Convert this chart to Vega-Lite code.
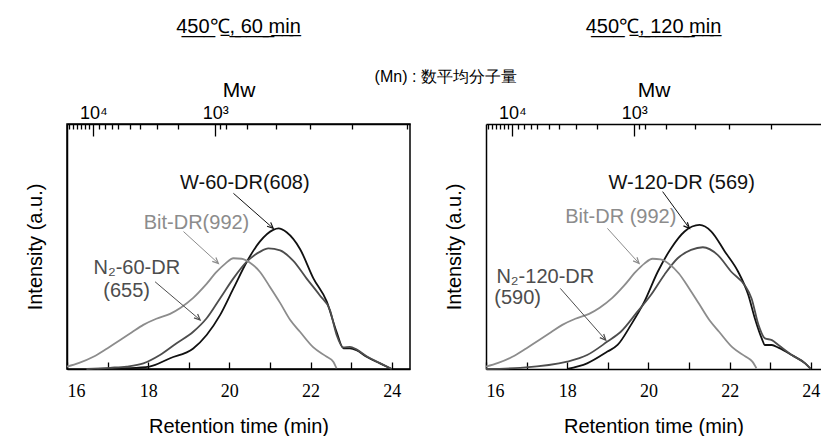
{
  "$schema": "https://vega.github.io/schema/vega-lite/v6.json",
  "background": "white",
  "padding": {"left": 24, "top": 16, "right": 0, "bottom": 0},
  "bounds": "flush",
  "spacing": 76,
  "config": {
    "view": {"stroke": null},
    "font": "Liberation Sans",
    "axis": {"domainColor": "#000", "domainWidth": 1.5, "tickColor": "#000", "tickWidth": 1.3, "labelColor": "#000", "titleColor": "#000", "titleFontWeight": "normal", "grid": false, "labelFont": "Liberation Sans Narrow", "labelFontSize": 18, "titleFontSize": 20, "titleFont": "Liberation Sans"},
    "title": {"fontSize": 20, "fontWeight": "normal", "font": "Liberation Sans", "color": "#000"}
  },
  "datasets": {
    "curves": [
      {"panel": "60", "series": "Bit", "rt": 16.0, "I": 0.01},
      {"panel": "60", "series": "Bit", "rt": 16.3, "I": 0.025},
      {"panel": "60", "series": "Bit", "rt": 16.65, "I": 0.05},
      {"panel": "60", "series": "Bit", "rt": 17.0, "I": 0.085},
      {"panel": "60", "series": "Bit", "rt": 17.31, "I": 0.118},
      {"panel": "60", "series": "Bit", "rt": 17.6, "I": 0.15},
      {"panel": "60", "series": "Bit", "rt": 17.88, "I": 0.18},
      {"panel": "60", "series": "Bit", "rt": 18.2, "I": 0.205},
      {"panel": "60", "series": "Bit", "rt": 18.54, "I": 0.225},
      {"panel": "60", "series": "Bit", "rt": 18.8, "I": 0.25},
      {"panel": "60", "series": "Bit", "rt": 19.11, "I": 0.29},
      {"panel": "60", "series": "Bit", "rt": 19.4, "I": 0.34},
      {"panel": "60", "series": "Bit", "rt": 19.69, "I": 0.397},
      {"panel": "60", "series": "Bit", "rt": 19.9, "I": 0.43},
      {"panel": "60", "series": "Bit", "rt": 20.1, "I": 0.452},
      {"panel": "60", "series": "Bit", "rt": 20.3, "I": 0.45},
      {"panel": "60", "series": "Bit", "rt": 20.5, "I": 0.435},
      {"panel": "60", "series": "Bit", "rt": 20.75, "I": 0.397},
      {"panel": "60", "series": "Bit", "rt": 21.0, "I": 0.335},
      {"panel": "60", "series": "Bit", "rt": 21.25, "I": 0.27},
      {"panel": "60", "series": "Bit", "rt": 21.5, "I": 0.2},
      {"panel": "60", "series": "Bit", "rt": 21.74, "I": 0.152},
      {"panel": "60", "series": "Bit", "rt": 22.07, "I": 0.088},
      {"panel": "60", "series": "Bit", "rt": 22.4, "I": 0.05},
      {"panel": "60", "series": "Bit", "rt": 22.56, "I": 0.03},
      {"panel": "60", "series": "Bit", "rt": 22.64, "I": 0.003},

      {"panel": "60", "series": "W", "rt": 16.73, "I": 0.0},
      {"panel": "60", "series": "W", "rt": 17.47, "I": 0.003},
      {"panel": "60", "series": "W", "rt": 18.03, "I": 0.01},
      {"panel": "60", "series": "W", "rt": 18.54, "I": 0.044},
      {"panel": "60", "series": "W", "rt": 19.11, "I": 0.084},
      {"panel": "60", "series": "W", "rt": 19.44, "I": 0.139},
      {"panel": "60", "series": "W", "rt": 19.77, "I": 0.22},
      {"panel": "60", "series": "W", "rt": 20.1, "I": 0.329},
      {"panel": "60", "series": "W", "rt": 20.43, "I": 0.438},
      {"panel": "60", "series": "W", "rt": 20.75, "I": 0.52},
      {"panel": "60", "series": "W", "rt": 21.08, "I": 0.568},
      {"panel": "60", "series": "W", "rt": 21.21, "I": 0.574},
      {"panel": "60", "series": "W", "rt": 21.41, "I": 0.558},
      {"panel": "60", "series": "W", "rt": 21.74, "I": 0.49},
      {"panel": "60", "series": "W", "rt": 22.07, "I": 0.37},
      {"panel": "60", "series": "W", "rt": 22.4, "I": 0.275},
      {"panel": "60", "series": "W", "rt": 22.64, "I": 0.152},
      {"panel": "60", "series": "W", "rt": 22.81, "I": 0.084},
      {"panel": "60", "series": "W", "rt": 22.97, "I": 0.084},
      {"panel": "60", "series": "W", "rt": 23.13, "I": 0.077},
      {"panel": "60", "series": "W", "rt": 23.38, "I": 0.05},
      {"panel": "60", "series": "W", "rt": 23.71, "I": 0.023},
      {"panel": "60", "series": "W", "rt": 24.0, "I": 0.0},

      {"panel": "60", "series": "N2", "rt": 16.48, "I": 0.0},
      {"panel": "60", "series": "N2", "rt": 17.06, "I": 0.005},
      {"panel": "60", "series": "N2", "rt": 17.47, "I": 0.01},
      {"panel": "60", "series": "N2", "rt": 17.88, "I": 0.023},
      {"panel": "60", "series": "N2", "rt": 18.29, "I": 0.057},
      {"panel": "60", "series": "N2", "rt": 18.7, "I": 0.105},
      {"panel": "60", "series": "N2", "rt": 19.11, "I": 0.152},
      {"panel": "60", "series": "N2", "rt": 19.44, "I": 0.207},
      {"panel": "60", "series": "N2", "rt": 19.77, "I": 0.288},
      {"panel": "60", "series": "N2", "rt": 20.1, "I": 0.37},
      {"panel": "60", "series": "N2", "rt": 20.43, "I": 0.438},
      {"panel": "60", "series": "N2", "rt": 20.75, "I": 0.478},
      {"panel": "60", "series": "N2", "rt": 20.96, "I": 0.492},
      {"panel": "60", "series": "N2", "rt": 21.25, "I": 0.484},
      {"panel": "60", "series": "N2", "rt": 21.57, "I": 0.442},
      {"panel": "60", "series": "N2", "rt": 21.9, "I": 0.37},
      {"panel": "60", "series": "N2", "rt": 22.23, "I": 0.3},
      {"panel": "60", "series": "N2", "rt": 22.48, "I": 0.24},
      {"panel": "60", "series": "N2", "rt": 22.64, "I": 0.14},
      {"panel": "60", "series": "N2", "rt": 22.81, "I": 0.088},
      {"panel": "60", "series": "N2", "rt": 22.97, "I": 0.09},
      {"panel": "60", "series": "N2", "rt": 23.13, "I": 0.08},
      {"panel": "60", "series": "N2", "rt": 23.38, "I": 0.052},
      {"panel": "60", "series": "N2", "rt": 23.71, "I": 0.024},
      {"panel": "60", "series": "N2", "rt": 24.0, "I": 0.0},

      {"panel": "120", "series": "Bit", "rt": 16.0, "I": 0.01},
      {"panel": "120", "series": "Bit", "rt": 16.3, "I": 0.025},
      {"panel": "120", "series": "Bit", "rt": 16.65, "I": 0.05},
      {"panel": "120", "series": "Bit", "rt": 17.0, "I": 0.085},
      {"panel": "120", "series": "Bit", "rt": 17.31, "I": 0.118},
      {"panel": "120", "series": "Bit", "rt": 17.6, "I": 0.15},
      {"panel": "120", "series": "Bit", "rt": 17.88, "I": 0.18},
      {"panel": "120", "series": "Bit", "rt": 18.2, "I": 0.205},
      {"panel": "120", "series": "Bit", "rt": 18.54, "I": 0.225},
      {"panel": "120", "series": "Bit", "rt": 18.8, "I": 0.25},
      {"panel": "120", "series": "Bit", "rt": 19.11, "I": 0.29},
      {"panel": "120", "series": "Bit", "rt": 19.4, "I": 0.34},
      {"panel": "120", "series": "Bit", "rt": 19.69, "I": 0.397},
      {"panel": "120", "series": "Bit", "rt": 19.9, "I": 0.43},
      {"panel": "120", "series": "Bit", "rt": 20.1, "I": 0.45},
      {"panel": "120", "series": "Bit", "rt": 20.3, "I": 0.447},
      {"panel": "120", "series": "Bit", "rt": 20.5, "I": 0.43},
      {"panel": "120", "series": "Bit", "rt": 20.75, "I": 0.39},
      {"panel": "120", "series": "Bit", "rt": 21.0, "I": 0.33},
      {"panel": "120", "series": "Bit", "rt": 21.25, "I": 0.265},
      {"panel": "120", "series": "Bit", "rt": 21.5, "I": 0.2},
      {"panel": "120", "series": "Bit", "rt": 21.74, "I": 0.152},
      {"panel": "120", "series": "Bit", "rt": 22.07, "I": 0.088},
      {"panel": "120", "series": "Bit", "rt": 22.4, "I": 0.05},
      {"panel": "120", "series": "Bit", "rt": 22.56, "I": 0.03},
      {"panel": "120", "series": "Bit", "rt": 22.66, "I": 0.003},

      {"panel": "120", "series": "W", "rt": 18.0, "I": 0.0},
      {"panel": "120", "series": "W", "rt": 18.49, "I": 0.023},
      {"panel": "120", "series": "W", "rt": 18.99, "I": 0.071},
      {"panel": "120", "series": "W", "rt": 19.24, "I": 0.098},
      {"panel": "120", "series": "W", "rt": 19.57, "I": 0.18},
      {"panel": "120", "series": "W", "rt": 19.9, "I": 0.275},
      {"panel": "120", "series": "W", "rt": 20.23, "I": 0.397},
      {"panel": "120", "series": "W", "rt": 20.56, "I": 0.493},
      {"panel": "120", "series": "W", "rt": 20.89, "I": 0.561},
      {"panel": "120", "series": "W", "rt": 21.26, "I": 0.588},
      {"panel": "120", "series": "W", "rt": 21.55, "I": 0.561},
      {"panel": "120", "series": "W", "rt": 21.88, "I": 0.48},
      {"panel": "120", "series": "W", "rt": 22.21, "I": 0.397},
      {"panel": "120", "series": "W", "rt": 22.46, "I": 0.302},
      {"panel": "120", "series": "W", "rt": 22.62, "I": 0.207},
      {"panel": "120", "series": "W", "rt": 22.79, "I": 0.125},
      {"panel": "120", "series": "W", "rt": 22.87, "I": 0.098},
      {"panel": "120", "series": "W", "rt": 23.04, "I": 0.098},
      {"panel": "120", "series": "W", "rt": 23.2, "I": 0.087},
      {"panel": "120", "series": "W", "rt": 23.53, "I": 0.057},
      {"panel": "120", "series": "W", "rt": 23.86, "I": 0.023},
      {"panel": "120", "series": "W", "rt": 24.0, "I": 0.0},

      {"panel": "120", "series": "N2", "rt": 16.0, "I": 0.0},
      {"panel": "120", "series": "N2", "rt": 16.84, "I": 0.005},
      {"panel": "120", "series": "N2", "rt": 18.0, "I": 0.03},
      {"panel": "120", "series": "N2", "rt": 18.49, "I": 0.057},
      {"panel": "120", "series": "N2", "rt": 18.99, "I": 0.112},
      {"panel": "120", "series": "N2", "rt": 19.32, "I": 0.152},
      {"panel": "120", "series": "N2", "rt": 19.73, "I": 0.234},
      {"panel": "120", "series": "N2", "rt": 20.06, "I": 0.302},
      {"panel": "120", "series": "N2", "rt": 20.39, "I": 0.384},
      {"panel": "120", "series": "N2", "rt": 20.72, "I": 0.452},
      {"panel": "120", "series": "N2", "rt": 21.05, "I": 0.486},
      {"panel": "120", "series": "N2", "rt": 21.34, "I": 0.497},
      {"panel": "120", "series": "N2", "rt": 21.71, "I": 0.465},
      {"panel": "120", "series": "N2", "rt": 22.04, "I": 0.397},
      {"panel": "120", "series": "N2", "rt": 22.37, "I": 0.342},
      {"panel": "120", "series": "N2", "rt": 22.54, "I": 0.288},
      {"panel": "120", "series": "N2", "rt": 22.71, "I": 0.18},
      {"panel": "120", "series": "N2", "rt": 22.87, "I": 0.125},
      {"panel": "120", "series": "N2", "rt": 23.04, "I": 0.118},
      {"panel": "120", "series": "N2", "rt": 23.2, "I": 0.098},
      {"panel": "120", "series": "N2", "rt": 23.53, "I": 0.057},
      {"panel": "120", "series": "N2", "rt": 23.86, "I": 0.023},
      {"panel": "120", "series": "N2", "rt": 24.0, "I": 0.0}
    ],
    "arrows": [
      {"panel": "60", "series": "W", "rt": 20.1, "I": 0.717, "rt2": 21.08, "I2": 0.574},
      {"panel": "60", "series": "Bit", "rt": 18.87, "I": 0.561, "rt2": 19.73, "I2": 0.431},
      {"panel": "60", "series": "N2", "rt": 18.17, "I": 0.356, "rt2": 19.28, "I2": 0.2},
      {"panel": "120", "series": "W", "rt": 20.35, "I": 0.724, "rt2": 21.01, "I2": 0.574},
      {"panel": "120", "series": "Bit", "rt": 18.99, "I": 0.574, "rt2": 19.77, "I2": 0.431},
      {"panel": "120", "series": "N2", "rt": 17.83, "I": 0.329, "rt2": 18.95, "I2": 0.118}
    ],
    "labels": [
      {"panel": "60", "series": "W", "rt": 20.38, "I": 0.758, "text": "W-60-DR(608)"},
      {"panel": "60", "series": "Bit", "rt": 19.19, "I": 0.597, "text": "Bit-DR(992)"},
      {"panel": "60", "series": "N2", "rt": 17.72, "I": 0.411, "text": "N₂-60-DR"},
      {"panel": "60", "series": "N2", "rt": 17.47, "I": 0.32, "text": "(655)"},
      {"panel": "60", "series": "Note", "rt": 25.33, "I": 1.19, "text": "(Mn) : 数平均分子量"},
      {"panel": "120", "series": "W", "rt": 20.82, "I": 0.758, "text": "W-120-DR (569)"},
      {"panel": "120", "series": "Bit", "rt": 19.32, "I": 0.622, "text": "Bit-DR (992)"},
      {"panel": "120", "series": "N2", "rt": 17.46, "I": 0.377, "text": "N₂-120-DR"},
      {"panel": "120", "series": "N2", "rt": 16.78, "I": 0.288, "text": "(590)"}
    ]
  },
  "hconcat": [
    {
      "width": 343,
      "height": 245,
      "view": {"stroke": "#000", "strokeWidth": 1.5},
      "title": {"text": "4\u03325\u03320\u0332\u2103\u0332,\u0332 \u03326\u03320\u0332 \u0332m\u0332i\u0332n\u0332", "offset": 32},
      "resolve": {"axis": {"x": "independent"}},
      "encoding": {
        "y": {"field": "I", "type": "quantitative", "scale": {"domain": [0, 1], "nice": false, "zero": false},
              "axis": {"orient": "left", "ticks": false, "labels": false, "domain": true, "title": "Intensity (a.u.)", "titlePadding": 22}}
      },
      "layer": [
        {
          "data": {"name": "curves"},
          "transform": [{"filter": "datum.panel == '60' && datum.series != 'Bit'"}],
          "mark": {"type": "line", "strokeWidth": 1.8, "interpolate": "monotone"},
          "encoding": {
            "x": {"field": "rt", "type": "quantitative", "scale": {"domain": [16, 24.45], "nice": false, "zero": false},
                  "axis": {"orient": "bottom", "values": [16, 18, 20, 22, 24], "ticks": false, "labelPadding": 13, "title": "Retention time (min)", "titlePadding": 16}},
            "color": {"field": "series", "type": "nominal", "scale": {"domain": ["W", "N2", "Bit", "Note"], "range": ["#111111", "#4d4d4d", "#8c8c8c", "#000000"]}, "legend": null}
          }
        },
        {
          "data": {"name": "curves"},
          "transform": [{"filter": "datum.panel == '60' && datum.series == 'Bit'"}],
          "mark": {"type": "line", "strokeWidth": 1.8, "interpolate": "monotone"},
          "encoding": {
            "x": {"field": "rt", "type": "quantitative", "scale": {"domain": [16, 24.45], "nice": false, "zero": false},
                  "axis": {"orient": "bottom", "values": [16, 17, 18, 19, 20, 21, 22, 23, 24], "offset": -7, "tickSize": 7, "labels": false, "domain": false, "title": null}},
            "color": {"field": "series", "type": "nominal", "legend": null}
          }
        },
        {
          "data": {"name": "arrows"},
          "transform": [{"filter": "datum.panel == '60'"}],
          "mark": {"type": "rule", "strokeWidth": 1},
          "encoding": {
            "x": {"field": "rt", "type": "quantitative", "scale": {"domain": [16, 24.45], "nice": false, "zero": false},
                  "axis": {"orient": "top", "values": [16.65, 19.65], "labelExpr": "datum.value == 16.65 ? '10⁴' : '10³'", "ticks": false,
                           "labelFont": "Liberation Sans", "labelFontSize": 18, "labelPadding": 2, "title": "Mw", "titleFontSize": 21, "titlePadding": 4}},
            "x2": {"field": "rt2"},
            "y2": {"field": "I2"},
            "color": {"field": "series", "type": "nominal", "legend": null}
          }
        },
        {
          "data": {"name": "arrows"},
          "transform": [{"filter": "datum.panel == '60'"}],
          "mark": {"type": "point", "shape": "M-0.45,1L0,0L0.45,1", "filled": false, "size": 140, "strokeWidth": 1.2, "angle": 133, "opacity": 1},
          "encoding": {
            "x": {"field": "rt2", "type": "quantitative", "scale": {"domain": [16, 24.45], "nice": false, "zero": false},
                  "axis": {"orient": "top", "values": [16.65, 19.65], "offset": -12, "tickSize": 12, "labels": false, "domain": false, "title": null}},
            "y": {"field": "I2", "type": "quantitative"},
            "color": {"field": "series", "type": "nominal", "legend": null}
          }
        },
        {
          "data": {"name": "labels"},
          "transform": [{"filter": "datum.panel == '60'"}],
          "mark": {"type": "text", "fontSize": 20, "align": "center", "baseline": "middle", "font": "Liberation Sans"},
          "encoding": {
            "x": {"field": "rt", "type": "quantitative", "scale": {"domain": [16, 24.45], "nice": false, "zero": false},
                  "axis": {"orient": "top", "values": [16.05, 16.15, 16.25, 16.34, 16.44, 16.54, 16.79, 16.94, 17.1, 17.26, 17.55, 17.8, 18.21, 18.74, 19.77, 19.91, 20.43, 21.14, 21.99, 23.01, 24.37], "offset": -5, "tickSize": 5, "labels": false, "domain": false, "title": null}},
            "text": {"field": "text"},
            "color": {"field": "series", "type": "nominal", "legend": null},
            "size": {"condition": {"test": "datum.series == 'Note'", "value": 16}, "value": 20}
          }
        }
      ]
    },
    {
      "width": 335,
      "height": 245,
      "title": {"text": "4\u03325\u03320\u0332\u2103\u0332,\u0332 \u03321\u03322\u03320\u0332 \u0332m\u0332i\u0332n\u0332", "offset": 42},
      "resolve": {"axis": {"x": "independent"}},
      "encoding": {
        "y": {"field": "I", "type": "quantitative", "scale": {"domain": [0, 1], "nice": false, "zero": false},
              "axis": {"orient": "left", "ticks": false, "labels": false, "domain": true, "title": "Intensity (a.u.)", "titlePadding": 22}}
      },
      "layer": [
        {
          "data": {"name": "curves"},
          "transform": [{"filter": "datum.panel == '120' && datum.series != 'Bit'"}],
          "mark": {"type": "line", "strokeWidth": 1.8, "interpolate": "monotone"},
          "encoding": {
            "x": {"field": "rt", "type": "quantitative", "scale": {"domain": [16, 24.25], "nice": false, "zero": false},
                  "axis": {"orient": "bottom", "values": [16, 18, 20, 22, 24], "ticks": false, "labelPadding": 13, "title": "Retention time (min)", "titlePadding": 16}},
            "color": {"field": "series", "type": "nominal", "scale": {"domain": ["W", "N2", "Bit", "Note"], "range": ["#111111", "#4d4d4d", "#8c8c8c", "#000000"]}, "legend": null}
          }
        },
        {
          "data": {"name": "curves"},
          "transform": [{"filter": "datum.panel == '120' && datum.series == 'Bit'"}],
          "mark": {"type": "line", "strokeWidth": 1.8, "interpolate": "monotone"},
          "encoding": {
            "x": {"field": "rt", "type": "quantitative", "scale": {"domain": [16, 24.25], "nice": false, "zero": false},
                  "axis": {"orient": "bottom", "values": [16, 17, 18, 19, 20, 21, 22, 23, 24], "offset": -7, "tickSize": 7, "labels": false, "domain": false, "title": null}},
            "color": {"field": "series", "type": "nominal", "legend": null}
          }
        },
        {
          "data": {"name": "arrows"},
          "transform": [{"filter": "datum.panel == '120'"}],
          "mark": {"type": "rule", "strokeWidth": 1},
          "encoding": {
            "x": {"field": "rt", "type": "quantitative", "scale": {"domain": [16, 24.25], "nice": false, "zero": false},
                  "axis": {"orient": "top", "values": [16.65, 19.65], "labelExpr": "datum.value == 16.65 ? '10⁴' : '10³'", "ticks": false,
                           "labelFont": "Liberation Sans", "labelFontSize": 18, "labelPadding": 2, "title": "Mw", "titleFontSize": 21, "titlePadding": 4}},
            "x2": {"field": "rt2"},
            "y2": {"field": "I2"},
            "color": {"field": "series", "type": "nominal", "legend": null}
          }
        },
        {
          "data": {"name": "arrows"},
          "transform": [{"filter": "datum.panel == '120'"}],
          "mark": {"type": "point", "shape": "M-0.45,1L0,0L0.45,1", "filled": false, "size": 140, "strokeWidth": 1.2, "angle": 137, "opacity": 1},
          "encoding": {
            "x": {"field": "rt2", "type": "quantitative", "scale": {"domain": [16, 24.25], "nice": false, "zero": false},
                  "axis": {"orient": "top", "values": [16.65, 19.65], "offset": -12, "tickSize": 12, "labels": false, "domain": false, "title": null}},
            "y": {"field": "I2", "type": "quantitative"},
            "color": {"field": "series", "type": "nominal", "legend": null}
          }
        },
        {
          "data": {"name": "labels"},
          "transform": [{"filter": "datum.panel == '120'"}],
          "mark": {"type": "text", "fontSize": 20, "align": "center", "baseline": "middle", "font": "Liberation Sans"},
          "encoding": {
            "x": {"field": "rt", "type": "quantitative", "scale": {"domain": [16, 24.25], "nice": false, "zero": false},
                  "axis": {"orient": "top", "values": [16.05, 16.15, 16.25, 16.34, 16.44, 16.54, 16.79, 16.94, 17.1, 17.26, 17.55, 17.8, 18.21, 18.74, 19.77, 19.91, 20.43, 21.14, 21.99, 23.01], "offset": -5, "tickSize": 5, "labels": false, "domain": false, "title": null}},
            "text": {"field": "text"},
            "color": {"field": "series", "type": "nominal", "legend": null}
          }
        }
      ]
    }
  ]
}
